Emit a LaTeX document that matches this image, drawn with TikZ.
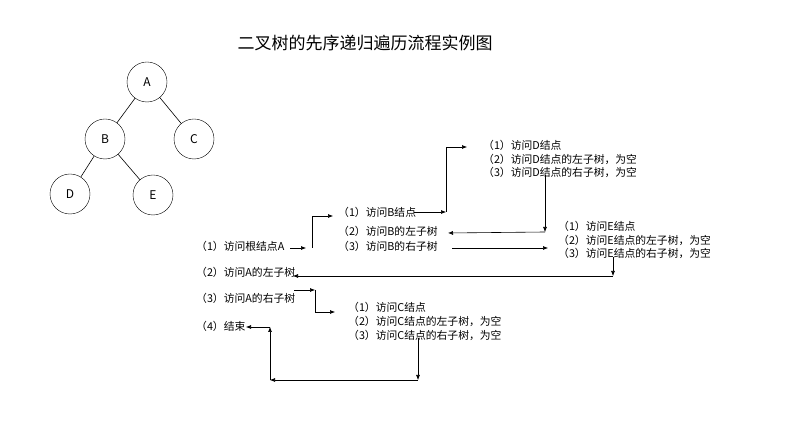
\documentclass[tikz,border=0pt]{standalone}
\usepackage{fontspec}
\setmainfont{Noto Sans CJK SC}
\usetikzlibrary{arrows.meta}
\begin{document}
\begin{tikzpicture}[x=1pt,y=-1pt,
  tn/.style={draw,circle,minimum size=40pt,inner sep=0pt,font=\fontsize{12}{14}\selectfont},
  txt/.style={anchor=west,inner sep=0pt,font=\fontsize{10.8}{12}\selectfont},
  ar/.style={-{Latex[length=5pt,width=4pt]},line width=0.6pt},
  ln/.style={line width=0.6pt}]
\useasboundingbox (0,0) rectangle (801,427);
\node[font=\fontsize{17}{19}\selectfont] (title) at (365,43) {二叉树的先序递归遍历流程实例图};
\node[tn] (A) at (147,82) {A};
\node[tn] (B) at (105,139) {B};
\node[tn] (C) at (194,139) {C};
\node[tn] (D) at (70,194) {D};
\node[tn] (E) at (153,195) {E};
\draw[ln] (A)--(B) (A)--(C) (B)--(D) (B)--(E);
% text
\node[txt] (a1) at (196,246) {（1）访问根结点A};
\node[txt] (a2) at (196,272) {（2）访问A的左子树};
\node[txt] (a3) at (196,298) {（3）访问A的右子树};
\node[txt] (a4) at (196,326) {（4）结束};
\node[txt] (b1) at (338,212) {（1）访问B结点};
\node[txt] (b2) at (338,231) {（2）访问B的左子树};
\node[txt] (b3) at (338,246) {（3）访问B的右子树};
\node[txt] (d1) at (483,145) {（1）访问D结点};
\node[txt] (d2) at (483,159) {（2）访问D结点的左子树，为空};
\node[txt] (d3) at (483,172) {（3）访问D结点的右子树，为空};
\node[txt] (e1) at (558,226) {（1）访问E结点};
\node[txt] (e2) at (558,240) {（2）访问E结点的左子树，为空};
\node[txt] (e3) at (558,253) {（3）访问E结点的右子树，为空};
\node[txt] (c1) at (348,307) {（1）访问C结点};
\node[txt] (c2) at (348,321) {（2）访问C结点的左子树，为空};
\node[txt] (c3) at (348,335) {（3）访问C结点的右子树，为空};
% connectors
\coordinate (p1) at (306,248); \coordinate (p2) at (312,248); \coordinate (p3) at (312,216); \coordinate (p4) at (333,216);
\draw[ar] (290,248) -- (p1);
\draw[ar] (p2) -- (p3) -- (p4);
\coordinate (q1) at (414,212); \coordinate (q2) at (446,212); \coordinate (q3) at (446,147); \coordinate (q4) at (467,147);
\draw[ar] (q1) -- (q2);
\draw[ar] (q2) -- (q3) -- (q4);
\coordinate (r1) at (545,175); \coordinate (r2) at (545,232); \coordinate (r3) at (448,233);
\draw[ar] (r1) -- (r2);
\draw[ar] (r2) -- (r3);
\draw[ar] (452,248) -- (548,248);
\coordinate (s1) at (613,257); \coordinate (s2) at (613,276); \coordinate (s3) at (293,276);
\draw[ar] (s1) -- (s2);
\draw[ar] (s2) -- (s3);
\coordinate (t1) at (294,290); \coordinate (t2) at (315,290); \coordinate (t3) at (315,312); \coordinate (t4) at (335,312);
\draw[ar] (t1) -- (t2);
\draw[ar] (t2) -- (t3) -- (t4);
\coordinate (u1) at (418,338); \coordinate (u2) at (418,380); \coordinate (u3) at (270,380); \coordinate (u4) at (270,327); \coordinate (u5) at (246,327);
\draw[ar] (u1) -- (u2);
\draw[ar] (u2) -- (u3);
\draw[ar] (u3) -- (u4);
\draw[ar] (u4) -- (u5);
\end{tikzpicture}
\end{document}
